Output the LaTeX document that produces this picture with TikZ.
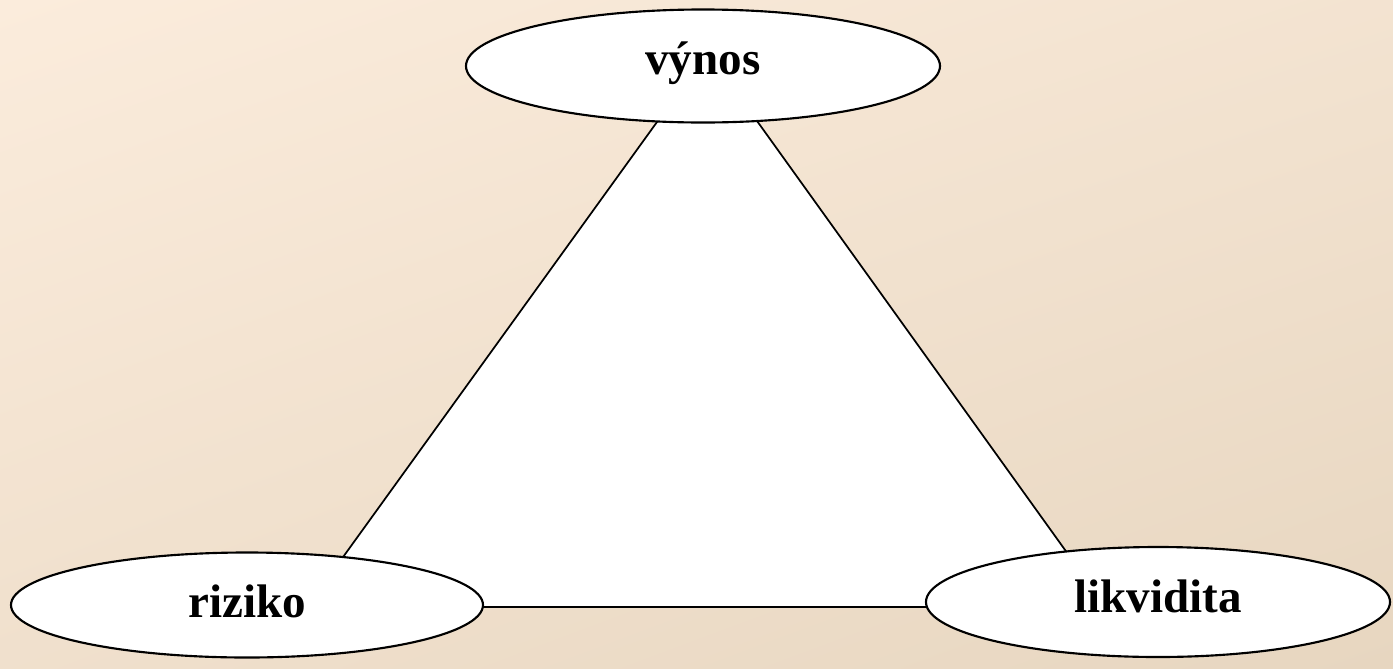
\documentclass[tikz,border=0pt]{standalone}
\usepackage{fontspec}
\setmainfont{Liberation Serif}
\usetikzlibrary{shapes.geometric,shadings}
\definecolor{bgTL}{RGB}{251,236,220}
\definecolor{bgBR}{RGB}{231,214,192}
\tikzset{
  oval/.style={ellipse, draw=black, line width=1.6pt, fill=white, inner sep=0pt,
    font=\fontsize{35.3pt}{40pt}\selectfont\bfseries},
  tri/.style={draw=black, line width=1.3pt, fill=white, line join=miter}
}
\begin{document}
\begin{tikzpicture}[x=0.75pt,y=-0.75pt]
\useasboundingbox (0,0) rectangle (1393,668);
\shade[upper left=bgTL, upper right=bgTL!60!bgBR, lower left=bgTL!45!bgBR, lower right=bgBR]
  (0,0) rectangle (1393,668);
\coordinate (apex) at (707.5,52);
\coordinate (bl) at (307,607);
\coordinate (br) at (1106,607);
\draw[tri] (apex) -- (bl) -- (br) -- cycle;
\node[oval, minimum width=355.5pt, minimum height=84.75pt, text depth=12pt] (vynos) at (703,66) {výnos};
\node[oval, minimum width=354pt, minimum height=78.75pt, text depth=6pt] (riziko) at (247,605) {riziko};
\node[oval, minimum width=348pt, minimum height=82.5pt, text depth=9pt] (likvidita) at (1158,602) {likvidita};
\end{tikzpicture}
\end{document}
